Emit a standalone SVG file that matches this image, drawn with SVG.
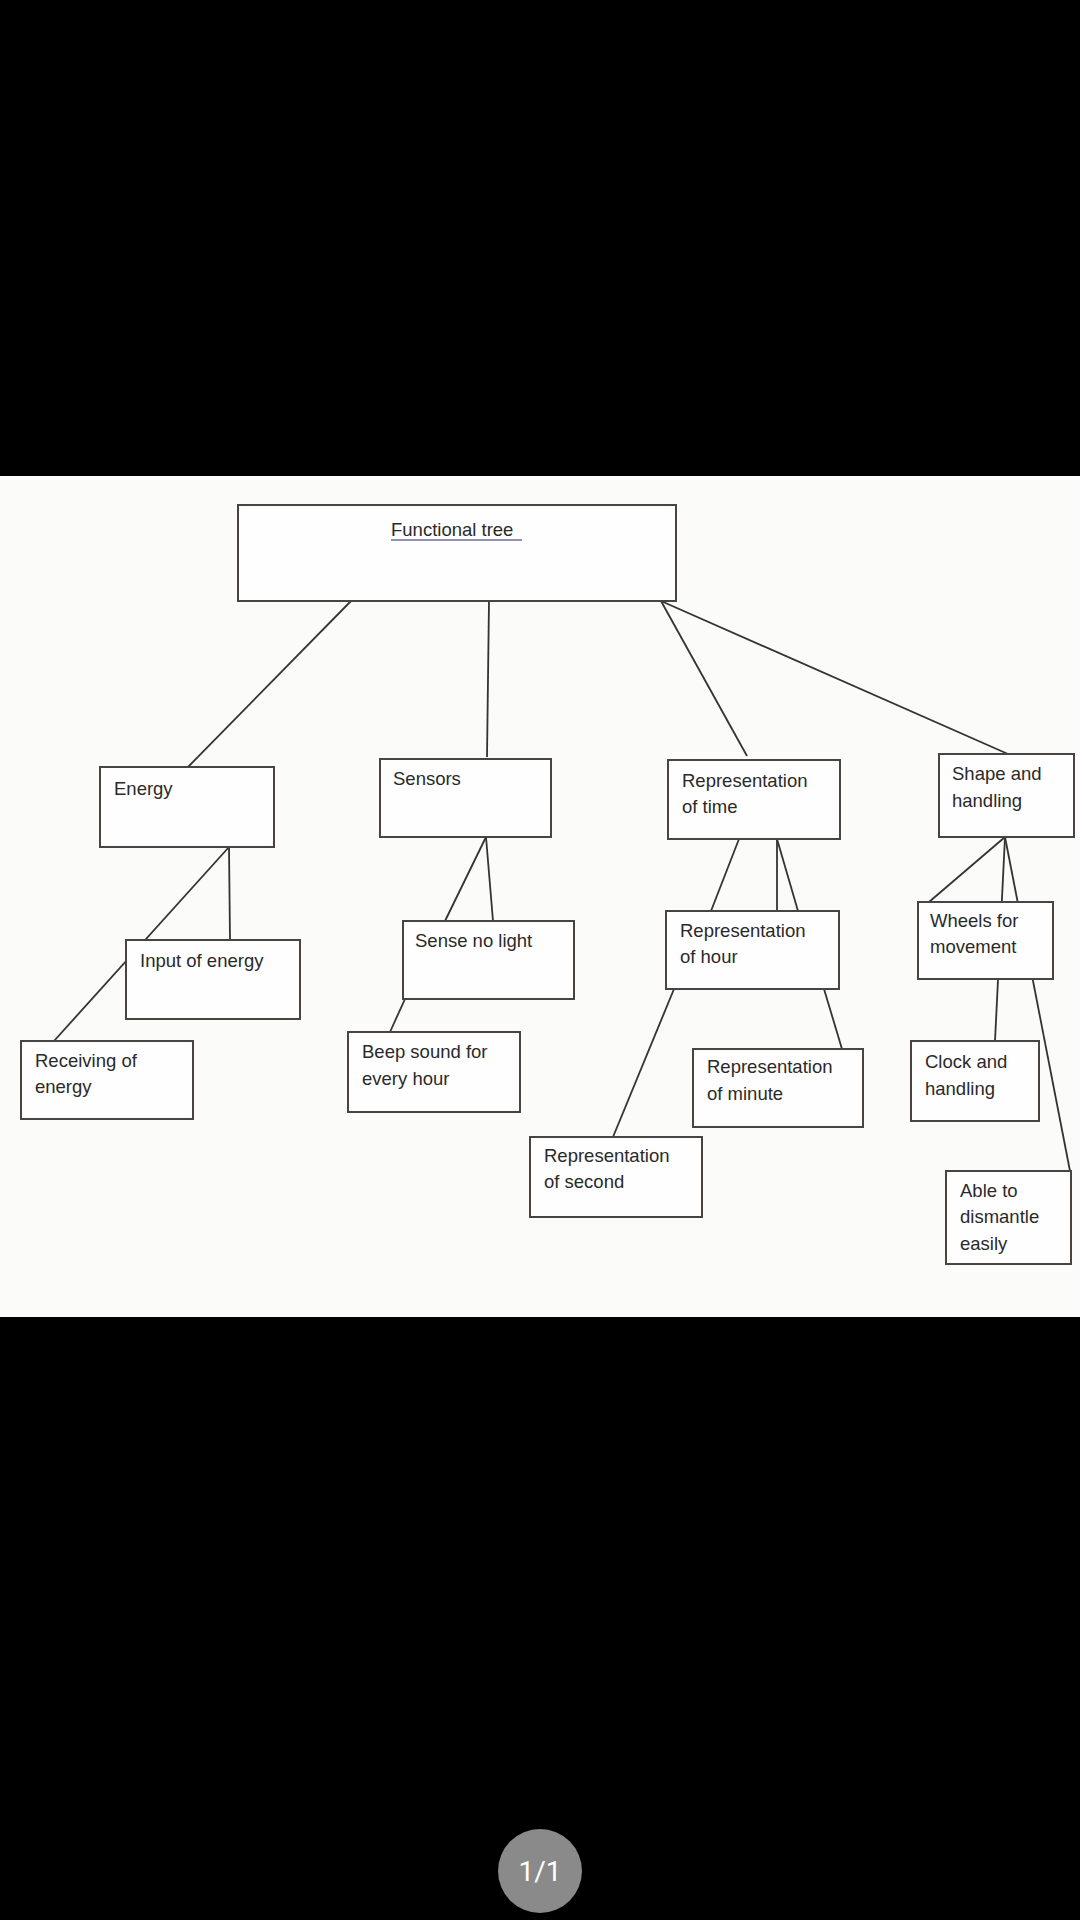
<svg xmlns="http://www.w3.org/2000/svg" width="1080" height="1920" viewBox="0 0 1080 1920">
<style>
.box{fill:#fefefe;stroke:#4a4440;stroke-width:2}
.lbl{font-family:"Liberation Sans",Arial,sans-serif;font-size:18.5px;fill:#2a2a2a}
.con line{stroke:#333;stroke-width:1.8;fill:none}
</style>
<rect x="0" y="0" width="1080" height="1920" fill="#000"/>
<rect x="0" y="476" width="1080" height="841" fill="#fbfbfa"/>
<g id="connectors" class="con">
<line x1="351" y1="601" x2="188" y2="767"/>
<line x1="489" y1="601" x2="487" y2="757"/>
<line x1="661" y1="601" x2="747" y2="756"/>
<line x1="661" y1="601" x2="1008" y2="754"/>
<line x1="229" y1="847" x2="230" y2="940"/>
<line x1="229" y1="847" x2="54" y2="1041"/>
<line x1="486" y1="837" x2="445" y2="921"/>
<line x1="486" y1="837" x2="493" y2="921"/>
<line x1="405" y1="999" x2="390" y2="1032"/>
<line x1="739" y1="839" x2="711" y2="911"/>
<line x1="777" y1="839" x2="777" y2="911"/>
<line x1="777" y1="839" x2="798" y2="911"/>
<line x1="824" y1="989" x2="842" y2="1049"/>
<line x1="674" y1="989" x2="613" y2="1137"/>
<line x1="1005" y1="837" x2="929" y2="902"/>
<line x1="1005" y1="837" x2="995" y2="1041"/>
<line x1="1005" y1="837" x2="1070" y2="1171"/>
</g>
<g id="root"><rect class="box" x="238" y="505" width="438" height="96"/>
<text class="lbl" x="391" y="536" fill="#333">Functional tree</text>
<line x1="391" y1="540" x2="522" y2="540" stroke="#6a6aa0" stroke-width="1.3"/></g>
<g id="energy"><rect class="box" x="100" y="767" width="174" height="80"/><text class="lbl" x="114" y="795">Energy</text></g>
<g id="sensors"><rect class="box" x="380" y="759" width="171" height="78"/><text class="lbl" x="393" y="785">Sensors</text></g>
<g id="rep-time"><rect class="box" x="668" y="760" width="172" height="79"/><text class="lbl" x="682" y="787">Representation</text><text class="lbl" x="682" y="813">of time</text></g>
<g id="shape"><rect class="box" x="939" y="754" width="135" height="83"/><text class="lbl" x="952" y="780">Shape and</text><text class="lbl" x="952" y="807">handling</text></g>
<g id="input-energy"><rect class="box" x="126" y="940" width="174" height="79"/><text class="lbl" x="140" y="967">Input of energy</text></g>
<g id="receiving-energy"><rect class="box" x="21" y="1041" width="172" height="78"/><text class="lbl" x="35" y="1067">Receiving of</text><text class="lbl" x="35" y="1093">energy</text></g>
<g id="sense-light"><rect class="box" x="403" y="921" width="171" height="78"/><text class="lbl" x="415" y="947">Sense no light</text></g>
<g id="beep"><rect class="box" x="348" y="1032" width="172" height="80"/><text class="lbl" x="362" y="1058">Beep sound for</text><text class="lbl" x="362" y="1085">every hour</text></g>
<g id="rep-hour"><rect class="box" x="666" y="911" width="173" height="78"/><text class="lbl" x="680" y="937">Representation</text><text class="lbl" x="680" y="963">of hour</text></g>
<g id="rep-minute"><rect class="box" x="693" y="1049" width="170" height="78"/><text class="lbl" x="707" y="1073">Representation</text><text class="lbl" x="707" y="1100">of minute</text></g>
<g id="rep-second"><rect class="box" x="530" y="1137" width="172" height="80"/><text class="lbl" x="544" y="1162">Representation</text><text class="lbl" x="544" y="1188">of second</text></g>
<g id="wheels"><rect class="box" x="918" y="902" width="135" height="77"/><text class="lbl" x="930" y="927">Wheels for</text><text class="lbl" x="930" y="953">movement</text></g>
<g id="clock"><rect class="box" x="911" y="1041" width="128" height="80"/><text class="lbl" x="925" y="1068">Clock and</text><text class="lbl" x="925" y="1095">handling</text></g>
<g id="dismantle"><rect class="box" x="946" y="1171" width="125" height="93"/><text class="lbl" x="960" y="1197">Able to</text><text class="lbl" x="960" y="1223">dismantle</text><text class="lbl" x="960" y="1250">easily</text></g>
<g id="page-indicator"><circle cx="540" cy="1871" r="42" fill="#8a8a8a"/><text x="540" y="1881" text-anchor="middle" font-family="Roboto,'Liberation Sans',sans-serif" font-size="28" fill="#fff">1/1</text></g>
</svg>
